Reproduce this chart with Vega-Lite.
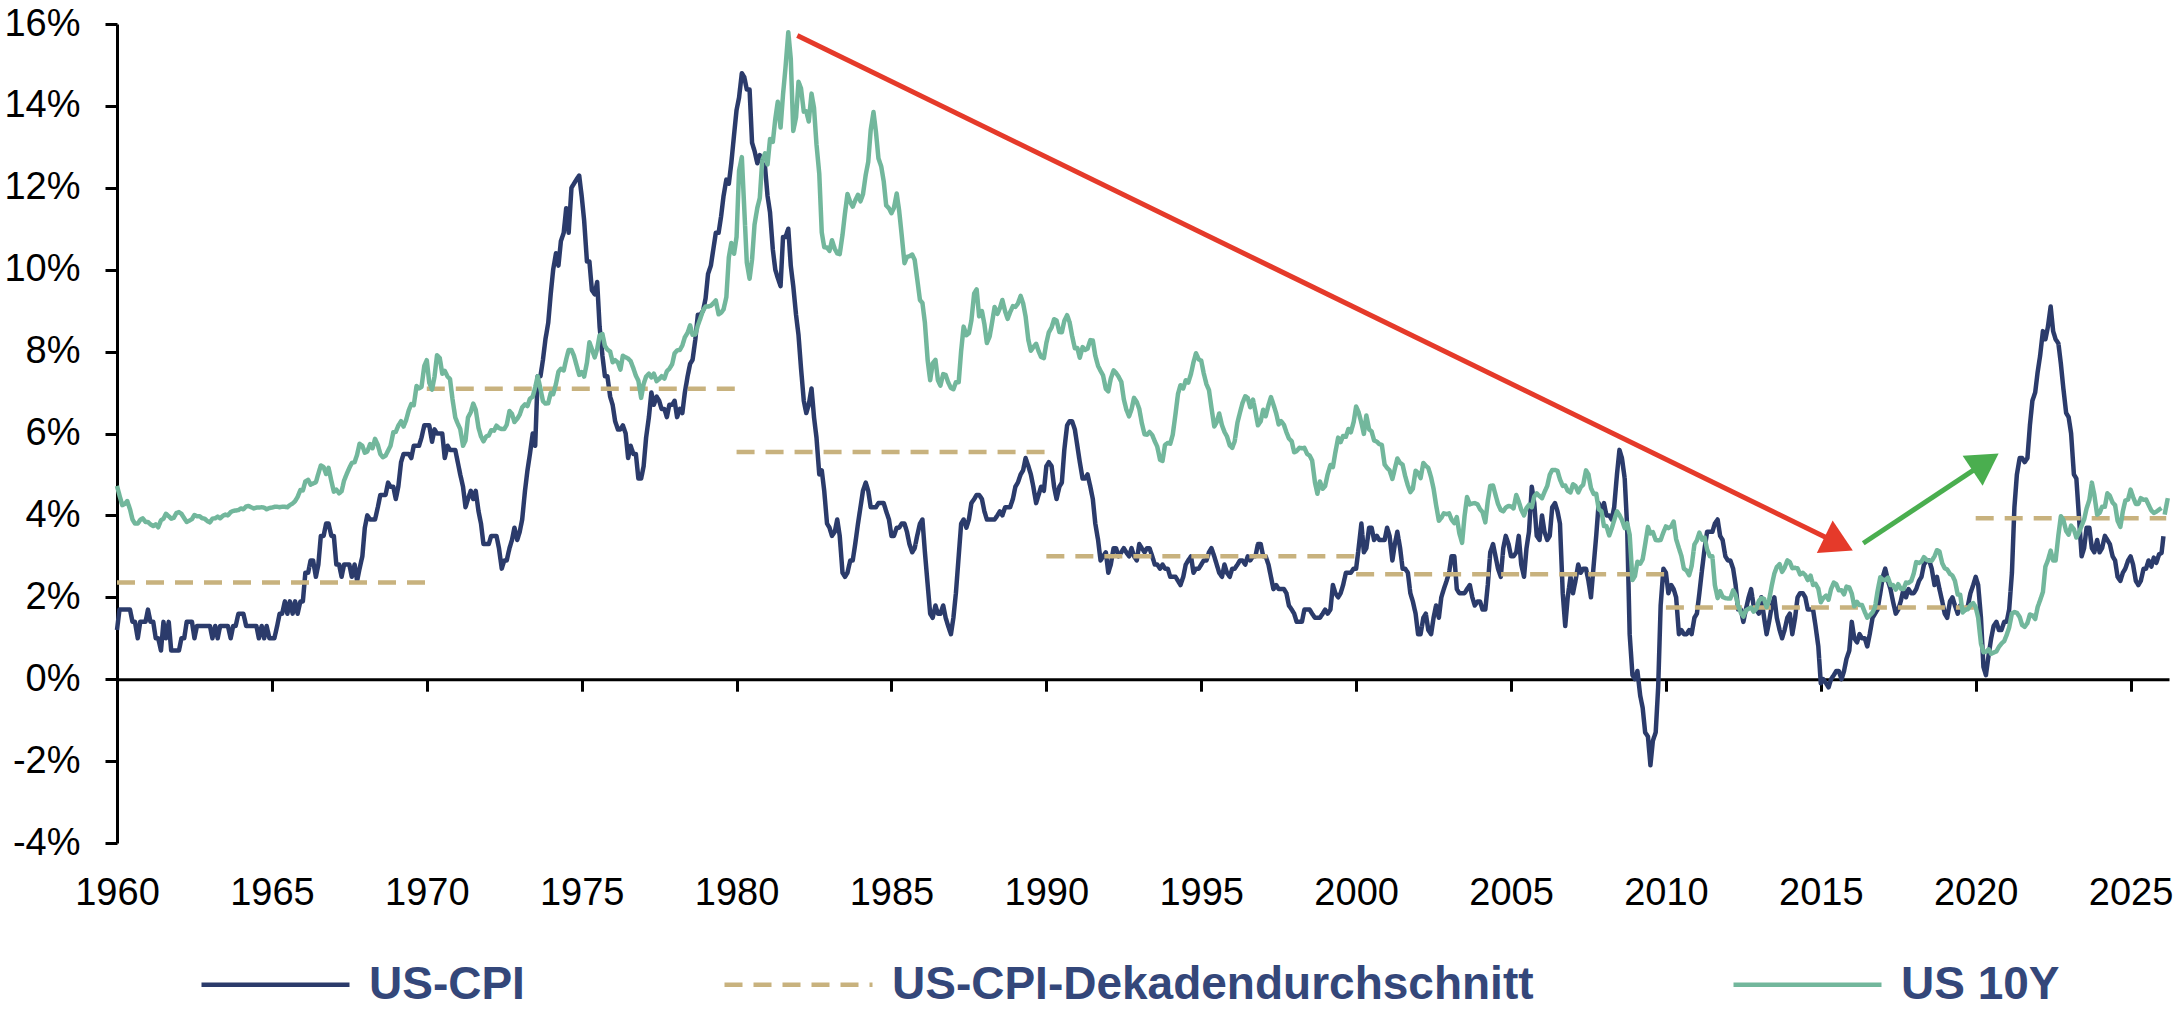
{
"$schema":"https://vega.github.io/schema/vega-lite/v6.json",
"width":2052,"height":819,
"autosize":{"type":"none"},
"padding":{"left":117,"top":24,"right":9,"bottom":169},
"background":"white",
"config":{"view":{"stroke":null},"font":"Liberation Sans"},
"datasets":{"m":[
{"t":1960,"c":1.2,"y":4.72},{"t":1960.08,"c":1.7,"y":4.49},{"t":1960.17,"c":1.7,"y":4.25},{"t":1960.25,"c":1.7,"y":4.28},{"t":1960.33,"c":1.7,"y":4.35},{"t":1960.42,"c":1.7,"y":4.15},{"t":1960.5,"c":1.4,"y":3.9},{"t":1960.58,"c":1.4,"y":3.8},{"t":1960.67,"c":1.0,"y":3.8},{"t":1960.75,"c":1.4,"y":3.89},{"t":1960.83,"c":1.4,"y":3.93},{"t":1960.92,"c":1.4,"y":3.84},
{"t":1961,"c":1.7,"y":3.84},{"t":1961.08,"c":1.4,"y":3.78},{"t":1961.17,"c":1.4,"y":3.74},{"t":1961.25,"c":1.0,"y":3.78},{"t":1961.33,"c":1.0,"y":3.71},{"t":1961.42,"c":0.7,"y":3.88},{"t":1961.5,"c":1.4,"y":3.92},{"t":1961.58,"c":1.0,"y":4.04},{"t":1961.67,"c":1.4,"y":3.98},{"t":1961.75,"c":0.7,"y":3.92},{"t":1961.83,"c":0.7,"y":3.94},{"t":1961.92,"c":0.7,"y":4.06},
{"t":1962,"c":0.7,"y":4.08},{"t":1962.08,"c":1.0,"y":4.04},{"t":1962.17,"c":1.0,"y":3.93},{"t":1962.25,"c":1.4,"y":3.84},{"t":1962.33,"c":1.4,"y":3.87},{"t":1962.42,"c":1.4,"y":3.91},{"t":1962.5,"c":1.0,"y":4.01},{"t":1962.58,"c":1.3,"y":3.98},{"t":1962.67,"c":1.3,"y":3.98},{"t":1962.75,"c":1.3,"y":3.93},{"t":1962.83,"c":1.3,"y":3.92},{"t":1962.92,"c":1.3,"y":3.86},
{"t":1963,"c":1.3,"y":3.83},{"t":1963.08,"c":1.0,"y":3.92},{"t":1963.17,"c":1.3,"y":3.93},{"t":1963.25,"c":1.0,"y":3.97},{"t":1963.33,"c":1.3,"y":3.93},{"t":1963.42,"c":1.3,"y":3.99},{"t":1963.5,"c":1.3,"y":4.02},{"t":1963.58,"c":1.3,"y":4.0},{"t":1963.67,"c":1.0,"y":4.08},{"t":1963.75,"c":1.3,"y":4.11},{"t":1963.83,"c":1.3,"y":4.12},{"t":1963.92,"c":1.6,"y":4.13},
{"t":1964,"c":1.6,"y":4.17},{"t":1964.08,"c":1.6,"y":4.15},{"t":1964.17,"c":1.3,"y":4.22},{"t":1964.25,"c":1.3,"y":4.23},{"t":1964.33,"c":1.3,"y":4.2},{"t":1964.42,"c":1.3,"y":4.17},{"t":1964.5,"c":1.3,"y":4.19},{"t":1964.58,"c":1.0,"y":4.19},{"t":1964.67,"c":1.3,"y":4.2},{"t":1964.75,"c":1.0,"y":4.19},{"t":1964.83,"c":1.3,"y":4.15},{"t":1964.92,"c":1.0,"y":4.18},
{"t":1965,"c":1.0,"y":4.19},{"t":1965.08,"c":1.0,"y":4.21},{"t":1965.17,"c":1.3,"y":4.21},{"t":1965.25,"c":1.6,"y":4.2},{"t":1965.33,"c":1.6,"y":4.21},{"t":1965.42,"c":1.9,"y":4.21},{"t":1965.5,"c":1.6,"y":4.2},{"t":1965.58,"c":1.9,"y":4.25},{"t":1965.67,"c":1.6,"y":4.29},{"t":1965.75,"c":1.9,"y":4.35},{"t":1965.83,"c":1.6,"y":4.45},{"t":1965.92,"c":1.9,"y":4.62},
{"t":1966,"c":1.9,"y":4.61},{"t":1966.08,"c":2.6,"y":4.83},{"t":1966.17,"c":2.6,"y":4.87},{"t":1966.25,"c":2.9,"y":4.75},{"t":1966.33,"c":2.9,"y":4.78},{"t":1966.42,"c":2.5,"y":4.81},{"t":1966.5,"c":2.8,"y":5.02},{"t":1966.58,"c":3.5,"y":5.22},{"t":1966.67,"c":3.5,"y":5.18},{"t":1966.75,"c":3.8,"y":5.01},{"t":1966.83,"c":3.8,"y":5.16},{"t":1966.92,"c":3.5,"y":4.84},
{"t":1967,"c":3.5,"y":4.58},{"t":1967.08,"c":2.8,"y":4.63},{"t":1967.17,"c":2.8,"y":4.54},{"t":1967.25,"c":2.5,"y":4.59},{"t":1967.33,"c":2.8,"y":4.85},{"t":1967.42,"c":2.8,"y":5.02},{"t":1967.5,"c":2.8,"y":5.16},{"t":1967.58,"c":2.5,"y":5.28},{"t":1967.67,"c":2.8,"y":5.3},{"t":1967.75,"c":2.4,"y":5.48},{"t":1967.83,"c":2.7,"y":5.75},{"t":1967.92,"c":3.0,"y":5.7},
{"t":1968,"c":3.7,"y":5.53},{"t":1968.08,"c":4.0,"y":5.56},{"t":1968.17,"c":3.9,"y":5.74},{"t":1968.25,"c":3.9,"y":5.64},{"t":1968.33,"c":3.9,"y":5.87},{"t":1968.42,"c":4.2,"y":5.72},{"t":1968.5,"c":4.5,"y":5.5},{"t":1968.58,"c":4.5,"y":5.42},{"t":1968.67,"c":4.5,"y":5.46},{"t":1968.75,"c":4.8,"y":5.58},{"t":1968.83,"c":4.7,"y":5.7},{"t":1968.92,"c":4.7,"y":6.03},
{"t":1969,"c":4.4,"y":6.04},{"t":1969.08,"c":4.7,"y":6.19},{"t":1969.17,"c":5.3,"y":6.3},{"t":1969.25,"c":5.5,"y":6.17},{"t":1969.33,"c":5.5,"y":6.32},{"t":1969.42,"c":5.5,"y":6.57},{"t":1969.5,"c":5.4,"y":6.72},{"t":1969.58,"c":5.7,"y":6.69},{"t":1969.67,"c":5.7,"y":7.16},{"t":1969.75,"c":5.7,"y":7.1},{"t":1969.83,"c":5.9,"y":7.14},{"t":1969.92,"c":6.2,"y":7.65},
{"t":1970,"c":6.2,"y":7.79},{"t":1970.08,"c":6.2,"y":7.24},{"t":1970.17,"c":5.8,"y":7.07},{"t":1970.25,"c":6.1,"y":7.39},{"t":1970.33,"c":6.0,"y":7.91},{"t":1970.42,"c":6.0,"y":7.84},{"t":1970.5,"c":6.0,"y":7.46},{"t":1970.58,"c":5.4,"y":7.53},{"t":1970.67,"c":5.7,"y":7.39},{"t":1970.75,"c":5.6,"y":7.33},{"t":1970.83,"c":5.6,"y":6.84},{"t":1970.92,"c":5.6,"y":6.39},
{"t":1971,"c":5.3,"y":6.24},{"t":1971.08,"c":5.0,"y":6.11},{"t":1971.17,"c":4.7,"y":5.7},{"t":1971.25,"c":4.2,"y":5.83},{"t":1971.33,"c":4.4,"y":6.39},{"t":1971.42,"c":4.6,"y":6.52},{"t":1971.5,"c":4.4,"y":6.73},{"t":1971.58,"c":4.6,"y":6.58},{"t":1971.67,"c":4.1,"y":6.14},{"t":1971.75,"c":3.8,"y":5.93},{"t":1971.83,"c":3.3,"y":5.81},{"t":1971.92,"c":3.3,"y":5.93},
{"t":1972,"c":3.3,"y":5.95},{"t":1972.08,"c":3.5,"y":6.08},{"t":1972.17,"c":3.5,"y":6.07},{"t":1972.25,"c":3.5,"y":6.19},{"t":1972.33,"c":3.2,"y":6.13},{"t":1972.42,"c":2.7,"y":6.11},{"t":1972.5,"c":2.9,"y":6.11},{"t":1972.58,"c":2.9,"y":6.21},{"t":1972.67,"c":3.2,"y":6.55},{"t":1972.75,"c":3.4,"y":6.48},{"t":1972.83,"c":3.7,"y":6.28},{"t":1972.92,"c":3.4,"y":6.36},
{"t":1973,"c":3.6,"y":6.46},{"t":1973.08,"c":3.9,"y":6.64},{"t":1973.17,"c":4.6,"y":6.71},{"t":1973.25,"c":5.1,"y":6.67},{"t":1973.33,"c":5.5,"y":6.85},{"t":1973.42,"c":6.0,"y":6.9},{"t":1973.5,"c":5.7,"y":7.13},{"t":1973.58,"c":7.4,"y":7.4},{"t":1973.67,"c":7.4,"y":7.09},{"t":1973.75,"c":7.8,"y":6.79},{"t":1973.83,"c":8.3,"y":6.73},{"t":1973.92,"c":8.7,"y":6.74},
{"t":1974,"c":9.4,"y":6.99},{"t":1974.08,"c":10.0,"y":6.96},{"t":1974.17,"c":10.4,"y":7.21},{"t":1974.25,"c":10.1,"y":7.51},{"t":1974.33,"c":10.7,"y":7.58},{"t":1974.42,"c":10.9,"y":7.54},{"t":1974.5,"c":11.5,"y":7.81},{"t":1974.58,"c":10.9,"y":8.04},{"t":1974.67,"c":12.0,"y":8.04},{"t":1974.75,"c":12.1,"y":7.9},{"t":1974.83,"c":12.2,"y":7.68},{"t":1974.92,"c":12.3,"y":7.43},
{"t":1975,"c":11.8,"y":7.5},{"t":1975.08,"c":11.2,"y":7.39},{"t":1975.17,"c":10.2,"y":7.73},{"t":1975.25,"c":10.2,"y":8.23},{"t":1975.33,"c":9.5,"y":8.06},{"t":1975.42,"c":9.4,"y":7.86},{"t":1975.5,"c":9.7,"y":8.06},{"t":1975.58,"c":8.6,"y":8.4},{"t":1975.67,"c":7.9,"y":8.43},{"t":1975.75,"c":7.4,"y":8.14},{"t":1975.83,"c":7.4,"y":8.05},{"t":1975.92,"c":6.9,"y":8.0},
{"t":1976,"c":6.7,"y":7.74},{"t":1976.08,"c":6.3,"y":7.79},{"t":1976.17,"c":6.1,"y":7.73},{"t":1976.25,"c":6.1,"y":7.56},{"t":1976.33,"c":6.2,"y":7.9},{"t":1976.42,"c":6.0,"y":7.86},{"t":1976.5,"c":5.4,"y":7.83},{"t":1976.58,"c":5.7,"y":7.77},{"t":1976.67,"c":5.5,"y":7.59},{"t":1976.75,"c":5.5,"y":7.41},{"t":1976.83,"c":4.9,"y":7.29},{"t":1976.92,"c":4.9,"y":6.87},
{"t":1977,"c":5.2,"y":7.21},{"t":1977.08,"c":5.9,"y":7.39},{"t":1977.17,"c":6.4,"y":7.46},{"t":1977.25,"c":7.0,"y":7.37},{"t":1977.33,"c":6.7,"y":7.46},{"t":1977.42,"c":6.9,"y":7.28},{"t":1977.5,"c":6.8,"y":7.33},{"t":1977.58,"c":6.6,"y":7.4},{"t":1977.67,"c":6.6,"y":7.34},{"t":1977.75,"c":6.4,"y":7.52},{"t":1977.83,"c":6.7,"y":7.58},{"t":1977.92,"c":6.7,"y":7.69},
{"t":1978,"c":6.8,"y":7.96},{"t":1978.08,"c":6.4,"y":8.03},{"t":1978.17,"c":6.6,"y":8.04},{"t":1978.25,"c":6.5,"y":8.15},{"t":1978.33,"c":7.0,"y":8.35},{"t":1978.42,"c":7.4,"y":8.46},{"t":1978.5,"c":7.7,"y":8.64},{"t":1978.58,"c":7.8,"y":8.41},{"t":1978.67,"c":8.3,"y":8.42},{"t":1978.75,"c":8.9,"y":8.64},{"t":1978.83,"c":8.9,"y":8.81},{"t":1978.92,"c":9.0,"y":9.01},
{"t":1979,"c":9.3,"y":9.1},{"t":1979.08,"c":9.9,"y":9.1},{"t":1979.17,"c":10.1,"y":9.12},{"t":1979.25,"c":10.5,"y":9.18},{"t":1979.33,"c":10.9,"y":9.25},{"t":1979.42,"c":10.9,"y":8.91},{"t":1979.5,"c":11.3,"y":8.95},{"t":1979.58,"c":11.8,"y":9.03},{"t":1979.67,"c":12.2,"y":9.33},{"t":1979.75,"c":12.1,"y":10.3},{"t":1979.83,"c":12.6,"y":10.65},{"t":1979.92,"c":13.3,"y":10.39},
{"t":1980,"c":13.9,"y":10.8},{"t":1980.08,"c":14.2,"y":12.41},{"t":1980.17,"c":14.8,"y":12.75},{"t":1980.25,"c":14.7,"y":11.47},{"t":1980.33,"c":14.4,"y":10.18},{"t":1980.42,"c":14.4,"y":9.78},{"t":1980.5,"c":13.1,"y":10.25},{"t":1980.58,"c":12.9,"y":11.1},{"t":1980.67,"c":12.6,"y":11.51},{"t":1980.75,"c":12.8,"y":11.75},{"t":1980.83,"c":12.6,"y":12.68},{"t":1980.92,"c":12.5,"y":12.84},
{"t":1981,"c":11.8,"y":12.57},{"t":1981.08,"c":11.4,"y":13.19},{"t":1981.17,"c":10.5,"y":13.12},{"t":1981.25,"c":10.0,"y":13.68},{"t":1981.33,"c":9.8,"y":14.1},{"t":1981.42,"c":9.6,"y":13.47},{"t":1981.5,"c":10.8,"y":14.28},{"t":1981.58,"c":10.8,"y":14.94},{"t":1981.67,"c":11.0,"y":15.8},{"t":1981.75,"c":10.1,"y":15.15},{"t":1981.83,"c":9.6,"y":13.39},{"t":1981.92,"c":8.9,"y":13.72},
{"t":1982,"c":8.4,"y":14.59},{"t":1982.08,"c":7.6,"y":14.43},{"t":1982.17,"c":6.8,"y":13.86},{"t":1982.25,"c":6.5,"y":13.87},{"t":1982.33,"c":6.7,"y":13.62},{"t":1982.42,"c":7.1,"y":14.3},{"t":1982.5,"c":6.4,"y":13.95},{"t":1982.58,"c":5.9,"y":13.06},{"t":1982.67,"c":5.0,"y":12.34},{"t":1982.75,"c":5.1,"y":10.91},{"t":1982.83,"c":4.6,"y":10.55},{"t":1982.92,"c":3.8,"y":10.54},
{"t":1983,"c":3.7,"y":10.46},{"t":1983.08,"c":3.5,"y":10.72},{"t":1983.17,"c":3.6,"y":10.51},{"t":1983.25,"c":3.9,"y":10.4},{"t":1983.33,"c":3.5,"y":10.38},{"t":1983.42,"c":2.6,"y":10.85},{"t":1983.5,"c":2.5,"y":11.38},{"t":1983.58,"c":2.6,"y":11.85},{"t":1983.67,"c":2.9,"y":11.65},{"t":1983.75,"c":2.9,"y":11.54},{"t":1983.83,"c":3.3,"y":11.69},{"t":1983.92,"c":3.8,"y":11.83},
{"t":1984,"c":4.2,"y":11.67},{"t":1984.08,"c":4.6,"y":11.84},{"t":1984.17,"c":4.8,"y":12.32},{"t":1984.25,"c":4.6,"y":12.63},{"t":1984.33,"c":4.2,"y":13.41},{"t":1984.42,"c":4.2,"y":13.85},{"t":1984.5,"c":4.2,"y":13.36},{"t":1984.58,"c":4.3,"y":12.72},{"t":1984.67,"c":4.3,"y":12.52},{"t":1984.75,"c":4.3,"y":12.16},{"t":1984.83,"c":4.1,"y":11.57},{"t":1984.92,"c":3.9,"y":11.5},
{"t":1985,"c":3.5,"y":11.38},{"t":1985.08,"c":3.5,"y":11.51},{"t":1985.17,"c":3.7,"y":11.86},{"t":1985.25,"c":3.7,"y":11.43},{"t":1985.33,"c":3.8,"y":10.85},{"t":1985.42,"c":3.8,"y":10.16},{"t":1985.5,"c":3.6,"y":10.31},{"t":1985.58,"c":3.3,"y":10.33},{"t":1985.67,"c":3.1,"y":10.37},{"t":1985.75,"c":3.2,"y":10.24},{"t":1985.83,"c":3.5,"y":9.78},{"t":1985.92,"c":3.8,"y":9.26},
{"t":1986,"c":3.9,"y":9.19},{"t":1986.08,"c":3.1,"y":8.7},{"t":1986.17,"c":2.3,"y":7.78},{"t":1986.25,"c":1.6,"y":7.3},{"t":1986.33,"c":1.5,"y":7.71},{"t":1986.42,"c":1.8,"y":7.8},{"t":1986.5,"c":1.6,"y":7.3},{"t":1986.58,"c":1.6,"y":7.17},{"t":1986.67,"c":1.8,"y":7.45},{"t":1986.75,"c":1.5,"y":7.43},{"t":1986.83,"c":1.3,"y":7.25},{"t":1986.92,"c":1.1,"y":7.11},
{"t":1987,"c":1.5,"y":7.08},{"t":1987.08,"c":2.1,"y":7.25},{"t":1987.17,"c":3.0,"y":7.25},{"t":1987.25,"c":3.8,"y":8.02},{"t":1987.33,"c":3.9,"y":8.61},{"t":1987.42,"c":3.7,"y":8.4},{"t":1987.5,"c":3.9,"y":8.45},{"t":1987.58,"c":4.3,"y":8.76},{"t":1987.67,"c":4.4,"y":9.42},{"t":1987.75,"c":4.5,"y":9.52},{"t":1987.83,"c":4.5,"y":8.86},{"t":1987.92,"c":4.4,"y":8.99},
{"t":1988,"c":4.1,"y":8.67},{"t":1988.08,"c":3.9,"y":8.21},{"t":1988.17,"c":3.9,"y":8.37},{"t":1988.25,"c":3.9,"y":8.72},{"t":1988.33,"c":3.9,"y":9.09},{"t":1988.42,"c":4.0,"y":8.92},{"t":1988.5,"c":4.1,"y":9.06},{"t":1988.58,"c":4.0,"y":9.26},{"t":1988.67,"c":4.2,"y":8.98},{"t":1988.75,"c":4.2,"y":8.8},{"t":1988.83,"c":4.2,"y":8.96},{"t":1988.92,"c":4.4,"y":9.11},
{"t":1989,"c":4.7,"y":9.09},{"t":1989.08,"c":4.8,"y":9.17},{"t":1989.17,"c":5.0,"y":9.36},{"t":1989.25,"c":5.1,"y":9.18},{"t":1989.33,"c":5.4,"y":8.86},{"t":1989.42,"c":5.2,"y":8.28},{"t":1989.5,"c":5.0,"y":8.02},{"t":1989.58,"c":4.7,"y":8.11},{"t":1989.67,"c":4.3,"y":8.19},{"t":1989.75,"c":4.5,"y":8.01},{"t":1989.83,"c":4.7,"y":7.87},{"t":1989.92,"c":4.6,"y":7.84},
{"t":1990,"c":5.2,"y":8.21},{"t":1990.08,"c":5.3,"y":8.47},{"t":1990.17,"c":5.2,"y":8.59},{"t":1990.25,"c":4.7,"y":8.79},{"t":1990.33,"c":4.4,"y":8.76},{"t":1990.42,"c":4.7,"y":8.48},{"t":1990.5,"c":4.8,"y":8.47},{"t":1990.58,"c":5.6,"y":8.75},{"t":1990.67,"c":6.2,"y":8.89},{"t":1990.75,"c":6.3,"y":8.72},{"t":1990.83,"c":6.3,"y":8.39},{"t":1990.92,"c":6.1,"y":8.08},
{"t":1991,"c":5.7,"y":8.09},{"t":1991.08,"c":5.3,"y":7.85},{"t":1991.17,"c":4.9,"y":8.11},{"t":1991.25,"c":4.9,"y":8.04},{"t":1991.33,"c":5.0,"y":8.07},{"t":1991.42,"c":4.7,"y":8.28},{"t":1991.5,"c":4.4,"y":8.27},{"t":1991.58,"c":3.8,"y":7.9},{"t":1991.67,"c":3.4,"y":7.65},{"t":1991.75,"c":2.9,"y":7.53},{"t":1991.83,"c":3.0,"y":7.42},{"t":1991.92,"c":3.1,"y":7.09},
{"t":1992,"c":2.6,"y":7.03},{"t":1992.08,"c":2.8,"y":7.34},{"t":1992.17,"c":3.2,"y":7.54},{"t":1992.25,"c":3.2,"y":7.48},{"t":1992.33,"c":3.0,"y":7.39},{"t":1992.42,"c":3.1,"y":7.26},{"t":1992.5,"c":3.2,"y":6.84},{"t":1992.58,"c":3.1,"y":6.59},{"t":1992.67,"c":3.0,"y":6.42},{"t":1992.75,"c":3.2,"y":6.59},{"t":1992.83,"c":3.0,"y":6.87},{"t":1992.92,"c":2.9,"y":6.77},
{"t":1993,"c":3.3,"y":6.6},{"t":1993.08,"c":3.2,"y":6.26},{"t":1993.17,"c":3.1,"y":5.98},{"t":1993.25,"c":3.2,"y":5.97},{"t":1993.33,"c":3.2,"y":6.04},{"t":1993.42,"c":3.0,"y":5.96},{"t":1993.5,"c":2.8,"y":5.81},{"t":1993.58,"c":2.8,"y":5.68},{"t":1993.67,"c":2.7,"y":5.36},{"t":1993.75,"c":2.8,"y":5.33},{"t":1993.83,"c":2.7,"y":5.72},{"t":1993.92,"c":2.7,"y":5.77},
{"t":1994,"c":2.5,"y":5.75},{"t":1994.08,"c":2.5,"y":5.97},{"t":1994.17,"c":2.5,"y":6.48},{"t":1994.25,"c":2.4,"y":6.97},{"t":1994.33,"c":2.3,"y":7.18},{"t":1994.42,"c":2.5,"y":7.1},{"t":1994.5,"c":2.8,"y":7.3},{"t":1994.58,"c":2.9,"y":7.24},{"t":1994.67,"c":3.0,"y":7.46},{"t":1994.75,"c":2.6,"y":7.74},{"t":1994.83,"c":2.7,"y":7.96},{"t":1994.92,"c":2.7,"y":7.81},
{"t":1995,"c":2.8,"y":7.78},{"t":1995.08,"c":2.9,"y":7.47},{"t":1995.17,"c":2.9,"y":7.2},{"t":1995.25,"c":3.1,"y":7.06},{"t":1995.33,"c":3.2,"y":6.63},{"t":1995.42,"c":3.0,"y":6.17},{"t":1995.5,"c":2.8,"y":6.28},{"t":1995.58,"c":2.6,"y":6.49},{"t":1995.67,"c":2.5,"y":6.2},{"t":1995.75,"c":2.8,"y":6.04},{"t":1995.83,"c":2.6,"y":5.93},{"t":1995.92,"c":2.5,"y":5.71},
{"t":1996,"c":2.7,"y":5.65},{"t":1996.08,"c":2.7,"y":5.81},{"t":1996.17,"c":2.8,"y":6.27},{"t":1996.25,"c":2.9,"y":6.51},{"t":1996.33,"c":2.9,"y":6.74},{"t":1996.42,"c":2.8,"y":6.91},{"t":1996.5,"c":3.0,"y":6.87},{"t":1996.58,"c":2.9,"y":6.64},{"t":1996.67,"c":3.0,"y":6.83},{"t":1996.75,"c":3.0,"y":6.53},{"t":1996.83,"c":3.3,"y":6.2},{"t":1996.92,"c":3.3,"y":6.3},
{"t":1997,"c":3.0,"y":6.58},{"t":1997.08,"c":3.0,"y":6.42},{"t":1997.17,"c":2.8,"y":6.69},{"t":1997.25,"c":2.5,"y":6.89},{"t":1997.33,"c":2.2,"y":6.71},{"t":1997.42,"c":2.3,"y":6.49},{"t":1997.5,"c":2.2,"y":6.22},{"t":1997.58,"c":2.2,"y":6.3},{"t":1997.67,"c":2.2,"y":6.21},{"t":1997.75,"c":2.1,"y":6.03},{"t":1997.83,"c":1.8,"y":5.88},{"t":1997.92,"c":1.7,"y":5.81},
{"t":1998,"c":1.6,"y":5.54},{"t":1998.08,"c":1.4,"y":5.57},{"t":1998.17,"c":1.4,"y":5.65},{"t":1998.25,"c":1.4,"y":5.64},{"t":1998.33,"c":1.7,"y":5.65},{"t":1998.42,"c":1.7,"y":5.5},{"t":1998.5,"c":1.7,"y":5.46},{"t":1998.58,"c":1.6,"y":5.34},{"t":1998.67,"c":1.5,"y":4.81},{"t":1998.75,"c":1.5,"y":4.53},{"t":1998.83,"c":1.5,"y":4.83},{"t":1998.92,"c":1.6,"y":4.65},
{"t":1999,"c":1.7,"y":4.72},{"t":1999.08,"c":1.6,"y":5.0},{"t":1999.17,"c":1.7,"y":5.23},{"t":1999.25,"c":2.3,"y":5.18},{"t":1999.33,"c":2.1,"y":5.54},{"t":1999.42,"c":2.0,"y":5.9},{"t":1999.5,"c":2.1,"y":5.79},{"t":1999.58,"c":2.3,"y":5.94},{"t":1999.67,"c":2.6,"y":5.92},{"t":1999.75,"c":2.6,"y":6.11},{"t":1999.83,"c":2.6,"y":6.03},{"t":1999.92,"c":2.7,"y":6.28},
{"t":2000,"c":2.7,"y":6.66},{"t":2000.08,"c":3.2,"y":6.52},{"t":2000.17,"c":3.8,"y":6.26},{"t":2000.25,"c":3.1,"y":5.99},{"t":2000.33,"c":3.2,"y":6.44},{"t":2000.42,"c":3.7,"y":6.1},{"t":2000.5,"c":3.7,"y":6.05},{"t":2000.58,"c":3.4,"y":5.83},{"t":2000.67,"c":3.5,"y":5.8},{"t":2000.75,"c":3.4,"y":5.74},{"t":2000.83,"c":3.4,"y":5.72},{"t":2000.92,"c":3.4,"y":5.24},
{"t":2001,"c":3.7,"y":5.16},{"t":2001.08,"c":3.5,"y":5.1},{"t":2001.17,"c":2.9,"y":4.89},{"t":2001.25,"c":3.3,"y":5.14},{"t":2001.33,"c":3.6,"y":5.39},{"t":2001.42,"c":3.2,"y":5.28},{"t":2001.5,"c":2.7,"y":5.24},{"t":2001.58,"c":2.7,"y":4.97},{"t":2001.67,"c":2.6,"y":4.73},{"t":2001.75,"c":2.1,"y":4.57},{"t":2001.83,"c":1.9,"y":4.65},{"t":2001.92,"c":1.6,"y":5.09},
{"t":2002,"c":1.1,"y":5.04},{"t":2002.08,"c":1.1,"y":4.91},{"t":2002.17,"c":1.5,"y":5.28},{"t":2002.25,"c":1.6,"y":5.21},{"t":2002.33,"c":1.2,"y":5.16},{"t":2002.42,"c":1.1,"y":4.93},{"t":2002.5,"c":1.5,"y":4.65},{"t":2002.58,"c":1.8,"y":4.26},{"t":2002.67,"c":1.5,"y":3.87},{"t":2002.75,"c":2.0,"y":3.94},{"t":2002.83,"c":2.2,"y":4.05},{"t":2002.92,"c":2.4,"y":4.03},
{"t":2003,"c":2.6,"y":4.05},{"t":2003.08,"c":3.0,"y":3.9},{"t":2003.17,"c":3.0,"y":3.81},{"t":2003.25,"c":2.2,"y":3.96},{"t":2003.33,"c":2.1,"y":3.57},{"t":2003.42,"c":2.1,"y":3.33},{"t":2003.5,"c":2.1,"y":3.98},{"t":2003.58,"c":2.2,"y":4.45},{"t":2003.67,"c":2.3,"y":4.27},{"t":2003.75,"c":2.0,"y":4.29},{"t":2003.83,"c":1.8,"y":4.3},{"t":2003.92,"c":1.9,"y":4.27},
{"t":2004,"c":1.9,"y":4.15},{"t":2004.08,"c":1.7,"y":4.08},{"t":2004.17,"c":1.7,"y":3.83},{"t":2004.25,"c":2.3,"y":4.35},{"t":2004.33,"c":3.1,"y":4.72},{"t":2004.42,"c":3.3,"y":4.73},{"t":2004.5,"c":3.0,"y":4.5},{"t":2004.58,"c":2.7,"y":4.28},{"t":2004.67,"c":2.5,"y":4.13},{"t":2004.75,"c":3.2,"y":4.1},{"t":2004.83,"c":3.5,"y":4.19},{"t":2004.92,"c":3.3,"y":4.23},
{"t":2005,"c":3.0,"y":4.22},{"t":2005.08,"c":3.0,"y":4.17},{"t":2005.17,"c":3.1,"y":4.5},{"t":2005.25,"c":3.5,"y":4.34},{"t":2005.33,"c":2.8,"y":4.14},{"t":2005.42,"c":2.5,"y":4.0},{"t":2005.5,"c":3.2,"y":4.18},{"t":2005.58,"c":3.6,"y":4.26},{"t":2005.67,"c":4.7,"y":4.2},{"t":2005.75,"c":4.3,"y":4.46},{"t":2005.83,"c":3.5,"y":4.54},{"t":2005.92,"c":3.4,"y":4.47},
{"t":2006,"c":4.0,"y":4.42},{"t":2006.08,"c":3.6,"y":4.57},{"t":2006.17,"c":3.4,"y":4.72},{"t":2006.25,"c":3.5,"y":4.99},{"t":2006.33,"c":4.2,"y":5.11},{"t":2006.42,"c":4.3,"y":5.11},{"t":2006.5,"c":4.1,"y":5.09},{"t":2006.58,"c":3.8,"y":4.88},{"t":2006.67,"c":2.1,"y":4.72},{"t":2006.75,"c":1.3,"y":4.73},{"t":2006.83,"c":2.0,"y":4.6},{"t":2006.92,"c":2.5,"y":4.56},
{"t":2007,"c":2.1,"y":4.76},{"t":2007.08,"c":2.4,"y":4.72},{"t":2007.17,"c":2.8,"y":4.56},{"t":2007.25,"c":2.6,"y":4.69},{"t":2007.33,"c":2.7,"y":4.75},{"t":2007.42,"c":2.7,"y":5.1},{"t":2007.5,"c":2.4,"y":5.0},{"t":2007.58,"c":2.0,"y":4.67},{"t":2007.67,"c":2.8,"y":4.52},{"t":2007.75,"c":3.5,"y":4.53},{"t":2007.83,"c":4.3,"y":4.15},{"t":2007.92,"c":4.1,"y":4.1},
{"t":2008,"c":4.3,"y":3.74},{"t":2008.08,"c":4.0,"y":3.74},{"t":2008.17,"c":4.0,"y":3.51},{"t":2008.25,"c":3.9,"y":3.68},{"t":2008.33,"c":4.2,"y":3.88},{"t":2008.42,"c":5.0,"y":4.1},{"t":2008.5,"c":5.6,"y":4.01},{"t":2008.58,"c":5.4,"y":3.89},{"t":2008.67,"c":4.9,"y":3.69},{"t":2008.75,"c":3.7,"y":3.81},{"t":2008.83,"c":1.1,"y":3.53},{"t":2008.92,"c":0.1,"y":2.42},
{"t":2009,"c":0.0,"y":2.52},{"t":2009.08,"c":0.2,"y":2.87},{"t":2009.17,"c":-0.4,"y":2.82},{"t":2009.25,"c":-0.7,"y":2.93},{"t":2009.33,"c":-1.3,"y":3.29},{"t":2009.42,"c":-1.4,"y":3.72},{"t":2009.5,"c":-2.1,"y":3.56},{"t":2009.58,"c":-1.5,"y":3.59},{"t":2009.67,"c":-1.3,"y":3.4},{"t":2009.75,"c":-0.2,"y":3.39},{"t":2009.83,"c":1.8,"y":3.4},{"t":2009.92,"c":2.7,"y":3.59},
{"t":2010,"c":2.6,"y":3.73},{"t":2010.08,"c":2.1,"y":3.69},{"t":2010.17,"c":2.3,"y":3.73},{"t":2010.25,"c":2.2,"y":3.85},{"t":2010.33,"c":2.0,"y":3.42},{"t":2010.42,"c":1.1,"y":3.2},{"t":2010.5,"c":1.2,"y":3.01},{"t":2010.58,"c":1.1,"y":2.7},{"t":2010.67,"c":1.1,"y":2.65},{"t":2010.75,"c":1.2,"y":2.54},{"t":2010.83,"c":1.1,"y":2.76},{"t":2010.92,"c":1.5,"y":3.29},
{"t":2011,"c":1.6,"y":3.39},{"t":2011.08,"c":2.1,"y":3.58},{"t":2011.17,"c":2.7,"y":3.41},{"t":2011.25,"c":3.2,"y":3.46},{"t":2011.33,"c":3.6,"y":3.17},{"t":2011.42,"c":3.6,"y":3.0},{"t":2011.5,"c":3.6,"y":3.0},{"t":2011.58,"c":3.8,"y":2.3},{"t":2011.67,"c":3.9,"y":1.98},{"t":2011.75,"c":3.5,"y":2.15},{"t":2011.83,"c":3.4,"y":2.01},{"t":2011.92,"c":3.0,"y":1.98},
{"t":2012,"c":2.9,"y":1.97},{"t":2012.08,"c":2.9,"y":1.97},{"t":2012.17,"c":2.7,"y":2.17},{"t":2012.25,"c":2.3,"y":2.05},{"t":2012.33,"c":1.7,"y":1.8},{"t":2012.42,"c":1.7,"y":1.62},{"t":2012.5,"c":1.4,"y":1.53},{"t":2012.58,"c":1.7,"y":1.68},{"t":2012.67,"c":2.0,"y":1.72},{"t":2012.75,"c":2.2,"y":1.75},{"t":2012.83,"c":1.8,"y":1.65},{"t":2012.92,"c":1.7,"y":1.72},
{"t":2013,"c":1.6,"y":1.91},{"t":2013.08,"c":2.0,"y":1.98},{"t":2013.17,"c":1.5,"y":1.96},{"t":2013.25,"c":1.1,"y":1.76},{"t":2013.33,"c":1.4,"y":1.93},{"t":2013.42,"c":1.8,"y":2.3},{"t":2013.5,"c":2.0,"y":2.58},{"t":2013.58,"c":1.5,"y":2.74},{"t":2013.67,"c":1.2,"y":2.81},{"t":2013.75,"c":1.0,"y":2.62},{"t":2013.83,"c":1.2,"y":2.72},{"t":2013.92,"c":1.5,"y":2.9},
{"t":2014,"c":1.6,"y":2.86},{"t":2014.08,"c":1.1,"y":2.71},{"t":2014.17,"c":1.5,"y":2.72},{"t":2014.25,"c":2.0,"y":2.71},{"t":2014.33,"c":2.1,"y":2.56},{"t":2014.42,"c":2.1,"y":2.6},{"t":2014.5,"c":2.0,"y":2.54},{"t":2014.58,"c":1.7,"y":2.42},{"t":2014.67,"c":1.7,"y":2.53},{"t":2014.75,"c":1.7,"y":2.3},{"t":2014.83,"c":1.3,"y":2.33},{"t":2014.92,"c":0.8,"y":2.21},
{"t":2015,"c":-0.1,"y":1.88},{"t":2015.08,"c":0.0,"y":1.98},{"t":2015.17,"c":-0.1,"y":2.04},{"t":2015.25,"c":-0.2,"y":1.94},{"t":2015.33,"c":0.0,"y":2.2},{"t":2015.42,"c":0.1,"y":2.36},{"t":2015.5,"c":0.2,"y":2.32},{"t":2015.58,"c":0.2,"y":2.17},{"t":2015.67,"c":0.0,"y":2.17},{"t":2015.75,"c":0.2,"y":2.07},{"t":2015.83,"c":0.5,"y":2.26},{"t":2015.92,"c":0.7,"y":2.24},
{"t":2016,"c":1.4,"y":2.09},{"t":2016.08,"c":1.0,"y":1.78},{"t":2016.17,"c":0.9,"y":1.89},{"t":2016.25,"c":1.1,"y":1.81},{"t":2016.33,"c":1.0,"y":1.81},{"t":2016.42,"c":1.0,"y":1.64},{"t":2016.5,"c":0.8,"y":1.5},{"t":2016.58,"c":1.1,"y":1.56},{"t":2016.67,"c":1.5,"y":1.63},{"t":2016.75,"c":1.6,"y":1.76},{"t":2016.83,"c":1.7,"y":2.14},{"t":2016.92,"c":2.1,"y":2.49},
{"t":2017,"c":2.5,"y":2.43},{"t":2017.08,"c":2.7,"y":2.42},{"t":2017.17,"c":2.4,"y":2.48},{"t":2017.25,"c":2.2,"y":2.3},{"t":2017.33,"c":1.9,"y":2.3},{"t":2017.42,"c":1.6,"y":2.19},{"t":2017.5,"c":1.7,"y":2.32},{"t":2017.58,"c":1.9,"y":2.21},{"t":2017.67,"c":2.2,"y":2.2},{"t":2017.75,"c":2.0,"y":2.36},{"t":2017.83,"c":2.2,"y":2.35},{"t":2017.92,"c":2.1,"y":2.4},
{"t":2018,"c":2.1,"y":2.58},{"t":2018.08,"c":2.2,"y":2.86},{"t":2018.17,"c":2.4,"y":2.84},{"t":2018.25,"c":2.5,"y":2.87},{"t":2018.33,"c":2.8,"y":2.98},{"t":2018.42,"c":2.9,"y":2.91},{"t":2018.5,"c":2.9,"y":2.89},{"t":2018.58,"c":2.7,"y":2.89},{"t":2018.67,"c":2.3,"y":3.0},{"t":2018.75,"c":2.5,"y":3.15},{"t":2018.83,"c":2.2,"y":3.12},{"t":2018.92,"c":1.9,"y":2.83},
{"t":2019,"c":1.6,"y":2.71},{"t":2019.08,"c":1.5,"y":2.68},{"t":2019.17,"c":1.9,"y":2.57},{"t":2019.25,"c":2.0,"y":2.53},{"t":2019.33,"c":1.8,"y":2.4},{"t":2019.42,"c":1.6,"y":2.07},{"t":2019.5,"c":1.8,"y":2.06},{"t":2019.58,"c":1.7,"y":1.63},{"t":2019.67,"c":1.7,"y":1.7},{"t":2019.75,"c":1.8,"y":1.71},{"t":2019.83,"c":2.1,"y":1.81},{"t":2019.92,"c":2.3,"y":1.86},
{"t":2020,"c":2.5,"y":1.76},{"t":2020.08,"c":2.3,"y":1.5},{"t":2020.17,"c":1.5,"y":0.87},{"t":2020.25,"c":0.3,"y":0.66},{"t":2020.33,"c":0.1,"y":0.67},{"t":2020.42,"c":0.6,"y":0.73},{"t":2020.5,"c":1.0,"y":0.62},{"t":2020.58,"c":1.3,"y":0.65},{"t":2020.67,"c":1.4,"y":0.68},{"t":2020.75,"c":1.2,"y":0.79},{"t":2020.83,"c":1.2,"y":0.87},{"t":2020.92,"c":1.4,"y":0.93},
{"t":2021,"c":1.4,"y":1.08},{"t":2021.08,"c":1.7,"y":1.26},{"t":2021.17,"c":2.6,"y":1.61},{"t":2021.25,"c":4.2,"y":1.64},{"t":2021.33,"c":5.0,"y":1.62},{"t":2021.42,"c":5.4,"y":1.52},{"t":2021.5,"c":5.4,"y":1.32},{"t":2021.58,"c":5.3,"y":1.28},{"t":2021.67,"c":5.4,"y":1.37},{"t":2021.75,"c":6.2,"y":1.58},{"t":2021.83,"c":6.8,"y":1.56},{"t":2021.92,"c":7.0,"y":1.47},
{"t":2022,"c":7.5,"y":1.76},{"t":2022.08,"c":7.9,"y":1.93},{"t":2022.17,"c":8.5,"y":2.13},{"t":2022.25,"c":8.3,"y":2.75},{"t":2022.33,"c":8.6,"y":2.9},{"t":2022.42,"c":9.1,"y":3.14},{"t":2022.5,"c":8.5,"y":2.9},{"t":2022.58,"c":8.3,"y":2.9},{"t":2022.67,"c":8.2,"y":3.52},{"t":2022.75,"c":7.7,"y":3.98},{"t":2022.83,"c":7.1,"y":3.89},{"t":2022.92,"c":6.5,"y":3.62},
{"t":2023,"c":6.4,"y":3.53},{"t":2023.08,"c":6.0,"y":3.75},{"t":2023.17,"c":5.0,"y":3.66},{"t":2023.25,"c":4.9,"y":3.46},{"t":2023.33,"c":4.0,"y":3.57},{"t":2023.42,"c":3.0,"y":3.75},{"t":2023.5,"c":3.2,"y":3.9},{"t":2023.58,"c":3.7,"y":4.17},{"t":2023.67,"c":3.7,"y":4.38},{"t":2023.75,"c":3.2,"y":4.8},{"t":2023.83,"c":3.1,"y":4.5},{"t":2023.92,"c":3.4,"y":4.02},
{"t":2024,"c":3.1,"y":4.06},{"t":2024.08,"c":3.2,"y":4.21},{"t":2024.17,"c":3.5,"y":4.21},{"t":2024.25,"c":3.4,"y":4.54},{"t":2024.33,"c":3.3,"y":4.48},{"t":2024.42,"c":3.0,"y":4.31},{"t":2024.5,"c":2.9,"y":4.25},{"t":2024.58,"c":2.5,"y":3.87},{"t":2024.67,"c":2.4,"y":3.72},{"t":2024.75,"c":2.6,"y":4.1},{"t":2024.83,"c":2.7,"y":4.36},{"t":2024.92,"c":2.9,"y":4.39},
{"t":2025,"c":3.0,"y":4.63},{"t":2025.08,"c":2.8,"y":4.45},{"t":2025.17,"c":2.4,"y":4.28},{"t":2025.25,"c":2.3,"y":4.28},{"t":2025.33,"c":2.4,"y":4.42},{"t":2025.42,"c":2.7,"y":4.38},{"t":2025.5,"c":2.7,"y":4.39},{"t":2025.58,"c":2.9,"y":4.26},{"t":2025.67,"c":2.75,"y":4.12},{"t":2025.75,"c":2.97,"y":4.06},{"t":2025.83,"c":2.84,"y":4.09},{"t":2025.92,"c":3.05,"y":4.14},
{"t":2026,"c":3.08,"y":4.18},{"t":2026.06,"c":3.49},{"t":2026.1,"y":4.02},{"t":2026.2,"y":4.42}
]},
"layer":[
{"data":{"name":"m"},"transform":[{"fold":["c"],"as":["s","v"]}],
 "mark":{"type":"line","strokeWidth":4.5,"strokeJoin":"round"},
 "encoding":{
  "x":{"field":"t","type":"quantitative","title":null,"scale":{"domain":[1960,2026.24],"nice":false,"zero":false},
   "axis":{"title":null,"values":[1960,1965,1970,1975,1980,1985,1990,1995,2000,2005,2010,2015,2020,2025],"format":"d","grid":false,"offset":-163.8,"domainColor":"black","domainWidth":3,"tickColor":"black","tickWidth":3,"tickSize":12,"labelFont":"Liberation Sans","labelFontSize":38,"labelColor":"black","labelPadding":183,"labelFlush":false,"labelOverlap":false,"labelBound":false}},
  "y":{"field":"v","type":"quantitative","title":null,"scale":{"domain":[-4,16],"nice":false,"zero":false},
   "axis":{"title":null,"values":[-4,-2,0,2,4,6,8,10,12,14,16],"labelExpr":"datum.value + '%'","grid":false,"domainColor":"black","domainWidth":3,"tickColor":"black","tickWidth":3,"tickSize":12,"labelFont":"Liberation Sans","labelFontSize":38,"labelColor":"black","labelPadding":25,"labelOverlap":false,"labelBound":false}},
  "color":{"field":"s","type":"nominal","scale":{"domain":["c","a","y"],"range":["#2B3B6B","#C8B27E","#72B79C"]},
   "legend":{"orient":"none","legendX":82,"legendY":884,"direction":"horizontal","columns":3,"title":null,"symbolType":"stroke","symbolSize":21904,"symbolStrokeWidth":4.5,"labelFont":"Liberation Sans","labelFontSize":46,"labelFontWeight":"bold","labelColor":"#34477A","labelOffset":17,"columnPadding":190,"labelLimit":1000,"padding":0,"labelExpr":"datum.label == 'c' ? 'US-CPI' : datum.label == 'a' ? 'US-CPI-Dekadendurchschnitt' : 'US 10Y'"}},
  "strokeDash":{"field":"s","type":"nominal","scale":{"domain":["c","a","y"],"range":[[1,0],[18,11],[1,0]]},
   "legend":{"orient":"none","legendX":82,"legendY":884,"direction":"horizontal","columns":3,"title":null,"symbolType":"stroke","symbolSize":21904,"symbolStrokeWidth":4.5,"labelFont":"Liberation Sans","labelFontSize":46,"labelFontWeight":"bold","labelColor":"#34477A","labelOffset":17,"columnPadding":190,"labelLimit":1000,"padding":0,"labelExpr":"datum.label == 'c' ? 'US-CPI' : datum.label == 'a' ? 'US-CPI-Dekadendurchschnitt' : 'US 10Y'"}}
 }},
{"data":{"values":[
 {"s":"a","g":1,"t":1960,"v":2.36},{"s":"a","g":1,"t":1970,"v":2.36},
 {"s":"a","g":2,"t":1970,"v":7.09},{"s":"a","g":2,"t":1980,"v":7.09},
 {"s":"a","g":3,"t":1980,"v":5.55},{"s":"a","g":3,"t":1990,"v":5.55},
 {"s":"a","g":4,"t":1990,"v":3.0},{"s":"a","g":4,"t":2000,"v":3.0},
 {"s":"a","g":5,"t":2000,"v":2.56},{"s":"a","g":5,"t":2010,"v":2.56},
 {"s":"a","g":6,"t":2010,"v":1.75},{"s":"a","g":6,"t":2020,"v":1.75},
 {"s":"a","g":7,"t":2020,"v":3.93},{"s":"a","g":7,"t":2026.15,"v":3.93}]},
 "mark":{"type":"line","strokeWidth":4.5},
 "encoding":{
  "x":{"field":"t","type":"quantitative","title":null},
  "y":{"field":"v","type":"quantitative","title":null},
  "detail":{"field":"g"},
  "color":{"field":"s","type":"nominal"},
  "strokeDash":{"field":"s","type":"nominal"}
 }},
{"data":{"name":"m"},"transform":[{"fold":["y"],"as":["s","v"]}],
 "mark":{"type":"line","strokeWidth":4.5,"strokeJoin":"round"},
 "encoding":{
  "x":{"field":"t","type":"quantitative","title":null},
  "y":{"field":"v","type":"quantitative","title":null},
  "color":{"field":"s","type":"nominal"},
  "strokeDash":{"field":"s","type":"nominal"}
 }},
{"data":{"values":[{"xa":1981.96,"ya":15.72,"xb":2015.58,"yb":3.31}]},
 "mark":{"type":"rule","strokeWidth":5,"color":"#E53A2A"},
 "encoding":{
  "x":{"field":"xa","type":"quantitative","title":null},"x2":{"field":"xb"},
  "y":{"field":"ya","type":"quantitative","title":null},"y2":{"field":"yb"}}},
{"data":{"values":[{"xb":2015.58,"yb":3.31}]},
 "mark":{"type":"point","shape":"triangle-right","size":1300,"filled":true,"opacity":1,"color":"#E53A2A","angle":26},
 "encoding":{
  "x":{"field":"xb","type":"quantitative","title":null},
  "y":{"field":"yb","type":"quantitative","title":null}}},
{"data":{"values":[{"xa":2016.37,"ya":3.32,"xb":2020.32,"yb":5.3}]},
 "mark":{"type":"rule","strokeWidth":5,"color":"#4AAE4F"},
 "encoding":{
  "x":{"field":"xa","type":"quantitative","title":null},"x2":{"field":"xb"},
  "y":{"field":"ya","type":"quantitative","title":null},"y2":{"field":"yb"}}},
{"data":{"values":[{"xb":2020.32,"yb":5.3}]},
 "mark":{"type":"point","shape":"triangle-right","size":1300,"filled":true,"opacity":1,"color":"#4AAE4F","angle":326.3},
 "encoding":{
  "x":{"field":"xb","type":"quantitative","title":null},
  "y":{"field":"yb","type":"quantitative","title":null}}}
]
}
